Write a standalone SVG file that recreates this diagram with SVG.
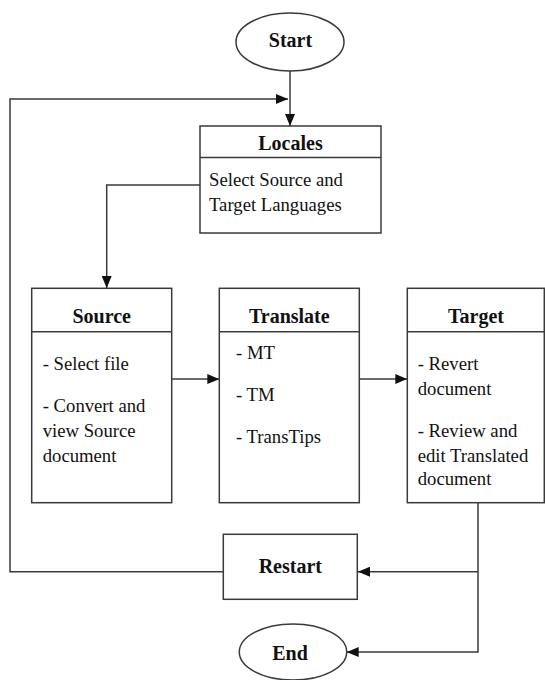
<svg xmlns="http://www.w3.org/2000/svg" width="545" height="680" viewBox="0 0 545 680">
<defs>
<style>
.shape{fill:#fff;stroke:#3a3a3a;stroke-width:1.5}
.line{fill:none;stroke:#3a3a3a;stroke-width:1.5}
.title{font-family:"Liberation Serif","Times New Roman",serif;font-weight:bold;font-size:20px;fill:#111;text-anchor:middle}
.body{font-family:"Liberation Serif","Times New Roman",serif;font-size:18.7px;fill:#111}
</style>
<marker id="arr" markerUnits="userSpaceOnUse" markerWidth="12" markerHeight="10" refX="12" refY="5" orient="auto">
<path d="M0,0 L12,5 L0,10 z" fill="#111"/>
</marker>
</defs>
<rect width="545" height="680" fill="#fff"/>
<g id="connectors">
<line class="line" x1="290" y1="71" x2="290" y2="126" marker-end="url(#arr)"/>
<polyline class="line" points="223,571.7 10,571.7 10,99 288,99" marker-end="url(#arr)"/>
<polyline class="line" points="200,185 106.7,185 106.7,288" marker-end="url(#arr)"/>
<line class="line" x1="171.7" y1="379" x2="219.3" y2="379" marker-end="url(#arr)"/>
<line class="line" x1="359.3" y1="379" x2="407.3" y2="379" marker-end="url(#arr)"/>
<polyline class="line" points="478,502.7 478,652 346.7,652" marker-end="url(#arr)"/>
<line class="line" x1="478" y1="571.7" x2="358" y2="571.7" marker-end="url(#arr)"/>
</g>
<g id="start">
<ellipse class="shape" cx="290" cy="42" rx="54" ry="29"/>
<text class="title" x="290.5" y="47">Start</text>
</g>
<g id="locales">
<rect class="shape" x="200" y="126" width="181" height="107"/>
<line class="line" x1="200" y1="157.5" x2="381" y2="157.5"/>
<text class="title" x="290.5" y="150">Locales</text>
<text class="body" x="209" y="185.7">Select Source and</text>
<text class="body" x="209" y="210.5">Target Languages</text>
</g>
<g id="source">
<rect class="shape" x="31.7" y="288.3" width="140" height="214.4"/>
<line class="line" x1="31.7" y1="331.7" x2="171.7" y2="331.7"/>
<text class="title" x="101.7" y="323.3">Source</text>
<text class="body" x="42.7" y="370">- Select file</text>
<text class="body" x="42.7" y="411.7">- Convert and</text>
<text class="body" x="42.7" y="436.7">view Source</text>
<text class="body" x="42.7" y="461.7">document</text>
</g>
<g id="translate">
<rect class="shape" x="219.3" y="288.3" width="140" height="214.4"/>
<line class="line" x1="219.3" y1="331.7" x2="359.3" y2="331.7"/>
<text class="title" x="289.3" y="323.3">Translate</text>
<text class="body" x="236" y="359">- MT</text>
<text class="body" x="236" y="400.7">- TM</text>
<text class="body" x="236" y="442.7">- TransTips</text>
</g>
<g id="target">
<rect class="shape" x="407.3" y="288.3" width="137" height="214.4"/>
<line class="line" x1="407.3" y1="331.7" x2="544.3" y2="331.7"/>
<text class="title" x="476" y="323.3">Target</text>
<text class="body" x="417.7" y="370">- Revert</text>
<text class="body" x="417.7" y="395">document</text>
<text class="body" x="417.7" y="436.7">- Review and</text>
<text class="body" x="417.7" y="461.7">edit Translated</text>
<text class="body" x="417.7" y="485">document</text>
</g>
<g id="restart">
<rect class="shape" x="223.3" y="534.3" width="134" height="65"/>
<text class="title" x="290.3" y="572.7">Restart</text>
</g>
<g id="end">
<ellipse class="shape" cx="293" cy="652" rx="53.7" ry="28"/>
<text class="title" x="290" y="660">End</text>
</g>
</svg>
